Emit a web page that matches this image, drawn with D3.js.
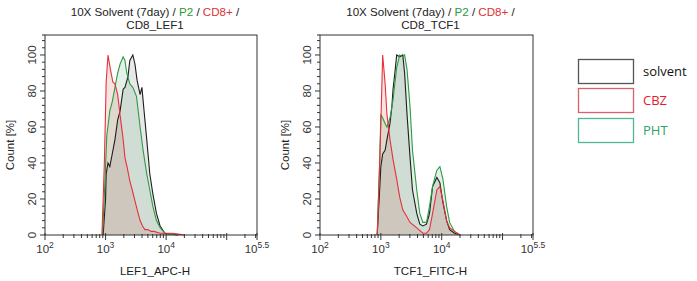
<!DOCTYPE html>
<html><head><meta charset="utf-8">
<script src="https://cdn.jsdelivr.net/npm/d3@7"></script>
<style>body{margin:0;background:#fff}svg{display:block}</style>
</head><body>
<svg id="c" width="697" height="281"></svg>
<script>
// ---- data (x in log10 units of fluorescence, y = Count [%]) ----
const seriesNames = ["solvent", "CBZ", "PHT"];
const panelTitles = ["CD8_LEF1", "CD8_TCF1"];
const axisLabels = ["LEF1_APC-H", "TCF1_FITC-H"];
const yTicks = [0, 20, 40, 60, 80, 100];
const xMajorExp = [2, 3, 4, 5.5];

const lefSolventX = [2.96,3.0,3.01,3.04,3.07,3.11,3.155,3.20,3.24,3.29,3.32,3.37,3.40,3.45,3.485,3.52,3.57,3.60,3.63,3.68,3.73,3.78,3.84,3.90,3.98,4.06,4.2];
const lefSolventY = [0,20,34,40,38,45,53,64,69,81,82,88,97,100,95,86,78,82,71,53,34,23,12,5,1,0.5,0];
const lefCbzX = [2.94,2.98,3.01,3.04,3.08,3.12,3.155,3.2,3.238,3.287,3.32,3.36,3.40,3.44,3.485,3.53,3.57,3.61,3.65,3.70,3.75,3.80,3.90,4.0,4.1,4.2,4.3];
const lefCbzY = [0,40,85,100,92,85,84,78,67,54,43,37,30,25,19,13,8,5,3,3,2,2,1,1,1,0.5,0];
const lefPhtX = [2.95,2.99,3.02,3.07,3.11,3.155,3.20,3.24,3.29,3.32,3.35,3.40,3.45,3.51,3.57,3.62,3.68,3.73,3.78,3.84,3.90,3.98,4.06,4.2];
const lefPhtY = [0,30,55,69,74,82,90,95,99,97,90,84,82,77,60,47,34,25,16,8,4,1,0.5,0];

const tcfSolventX = [2.94,2.98,3.00,3.03,3.07,3.10,3.15,3.18,3.20,3.23,3.26,3.31,3.36,3.39,3.43,3.48,3.52,3.59,3.64,3.69,3.75,3.80,3.85,3.92,3.97,4.02,4.08,4.13,4.21,4.30];
const tcfSolventY = [0,25,38,45,47,53,62,71,81,90,100,99,100,90,67,43,25,12,6,5,6,12,27,32,29,18,8,3,1,0];
const tcfCbzX = [2.94,2.99,3.03,3.07,3.10,3.15,3.20,3.26,3.31,3.36,3.43,3.48,3.59,3.69,3.75,3.80,3.85,3.92,3.97,4.02,4.08,4.13,4.21,4.30];
const tcfCbzY = [0,50,100,84,67,53,42,31,21,14,10,7,4,1,1,3,12,25,27,19,8,4,2,0];
const tcfPhtX = [2.94,2.98,3.00,3.03,3.07,3.10,3.15,3.18,3.20,3.23,3.26,3.31,3.36,3.39,3.43,3.48,3.52,3.59,3.64,3.69,3.75,3.80,3.85,3.92,3.97,4.02,4.08,4.13,4.21,4.30];
const tcfPhtY = [0,40,67,65,62,60,65,71,75,84,93,100,99,100,92,71,47,25,12,7,7,16,27,36,38,31,16,7,2,0];

// ---- drawing ----
const lineColors = {solvent:"#1e1e1e", CBZ:"#e8303a", PHT:"#2f9a45"};
const fillColors = {solvent:"rgba(110,110,110,0.16)", CBZ:"rgba(200,90,70,0.16)", PHT:"rgba(90,170,110,0.16)"};
const legendBox = {solvent:"#555555", CBZ:"#d9626a", PHT:"#4fb88e"};
const legendText = {solvent:"#111111", CBZ:"#e0202c", PHT:"#2aa468"};

const panels = [
  {left:45, right:257, title:panelTitles[0], xlabel:axisLabels[0],
   data:{solvent:[lefSolventX,lefSolventY], CBZ:[lefCbzX,lefCbzY], PHT:[lefPhtX,lefPhtY]}},
  {left:320, right:533, title:panelTitles[1], xlabel:axisLabels[1],
   data:{solvent:[tcfSolventX,tcfSolventY], CBZ:[tcfCbzX,tcfCbzY], PHT:[tcfPhtX,tcfPhtY]}}
];
const plotTop = 35, plotBottom = 235;
const svg = d3.select("#c");
const font = "Liberation Sans, Arial, sans-serif";

const y = d3.scaleLinear().domain([0, 111.1]).range([plotBottom, plotTop]);

panels.forEach(p => {
  const x = d3.scaleLog().domain([100, Math.pow(10,5.5)]).range([p.left, p.right]);
  const g = svg.append("g");
  const cx = (p.left + p.right)/2 + 4;

  // title
  const t1 = g.append("text").attr("x", cx).attr("y", 16).attr("text-anchor","middle")
    .attr("font-family", font).attr("font-size", 11.6).attr("fill","#222");
  t1.append("tspan").text("10X Solvent (7day) / ");
  t1.append("tspan").attr("fill","#2a9a3a").text("P2");
  t1.append("tspan").text(" / ");
  t1.append("tspan").attr("fill","#e03030").text("CD8+");
  t1.append("tspan").text(" /");
  g.append("text").attr("x", cx).attr("y", 29).attr("text-anchor","middle")
    .attr("font-family", font).attr("font-size", 11.6).attr("fill","#222").text(p.title);

  // histograms
  const order = ["solvent","PHT","CBZ"];
  order.forEach(s => {
    const [xs, ys] = p.data[s];
    const pts = xs.map((v,i) => [Math.pow(10, v), ys[i]]);
    const area = d3.area().x(d => x(d[0])).y0(y(0)).y1(d => y(d[1]));
    g.append("path").attr("d", area(pts)).attr("fill", fillColors[s]);
  });
  order.forEach(s => {
    const [xs, ys] = p.data[s];
    const pts = xs.map((v,i) => [Math.pow(10, v), ys[i]]);
    const line = d3.line().x(d => x(d[0])).y(d => y(d[1]));
    g.append("path").attr("d", line(pts)).attr("fill","none")
      .attr("stroke", lineColors[s]).attr("stroke-width", 1.1);
  });

  // frame
  g.append("rect").attr("x", p.left).attr("y", plotTop).attr("width", p.right-p.left)
    .attr("height", plotBottom-plotTop).attr("fill","none").attr("stroke","#333").attr("stroke-width",1);

  // x axis ticks
  const minors = [];
  for (let k = 2; k <= 5; k++) for (let m = 2; m <= 9; m++) {
    const v = m*Math.pow(10,k); if (v < Math.pow(10,5.5)) minors.push(v);
  }
  const ax = g.append("g").attr("stroke","#333").attr("stroke-width",1);
  minors.forEach(v => ax.append("line").attr("x1", x(v)).attr("x2", x(v))
    .attr("y1", plotBottom-1).attr("y2", plotBottom+3));
  [2,3,4,5,5.5].forEach(e => ax.append("line").attr("x1", x(Math.pow(10,e))).attr("x2", x(Math.pow(10,e)))
    .attr("y1", plotBottom-2).attr("y2", plotBottom+5));
  xMajorExp.forEach(e => {
    const tx = g.append("text").attr("x", x(Math.pow(10,e))).attr("y", plotBottom+18)
      .attr("text-anchor","middle").attr("font-family", font).attr("font-size", 11.5).attr("fill","#333");
    tx.append("tspan").text("10");
    tx.append("tspan").attr("font-size", 8.5).attr("dy", -5).text(e === 5.5 ? "5.5" : String(e));
  });
  g.append("text").attr("x", cx).attr("y", plotBottom+40).attr("text-anchor","middle")
    .attr("font-family", font).attr("font-size", 11.6).attr("fill","#222").text(p.xlabel);

  // y axis
  const ay = g.append("g").attr("stroke","#333").attr("stroke-width",1);
  for (let v = 0; v <= 108; v += 4) {
    ay.append("line").attr("x1", p.left).attr("x2", p.left - (v % 20 === 0 ? 5 : 3))
      .attr("y1", y(v)).attr("y2", y(v));
  }
  ay.append("line").attr("x1", p.left).attr("x2", p.left - 3).attr("y1", plotTop).attr("y2", plotTop);
  yTicks.forEach(v => {
    g.append("text").attr("transform", `translate(${p.left-9},${y(v)}) rotate(-90)`)
      .attr("text-anchor","middle").attr("font-family", font).attr("font-size", 11.5).attr("fill","#333").text(v);
  });
  g.append("text").attr("transform", `translate(${p.left-31},${(plotTop+plotBottom)/2+10}) rotate(-90)`)
    .attr("text-anchor","middle").attr("font-family", font).attr("font-size", 11.5).attr("fill","#222").text("Count [%]");
});

// legend
const legY = [59, 88, 118];
seriesNames.forEach((s, i) => {
  svg.append("rect").attr("x", 578.5).attr("y", legY[i]+0.5).attr("width", 55).attr("height", 24)
    .attr("fill","#fff").attr("stroke", legendBox[s]).attr("stroke-width", 1.3);
  svg.append("text").attr("x", 643).attr("y", legY[i]+17).attr("font-family","Open Sans, sans-serif")
    .attr("font-size", 13).attr("fill", legendText[s]).text(s);
});
</script>
</body></html>
